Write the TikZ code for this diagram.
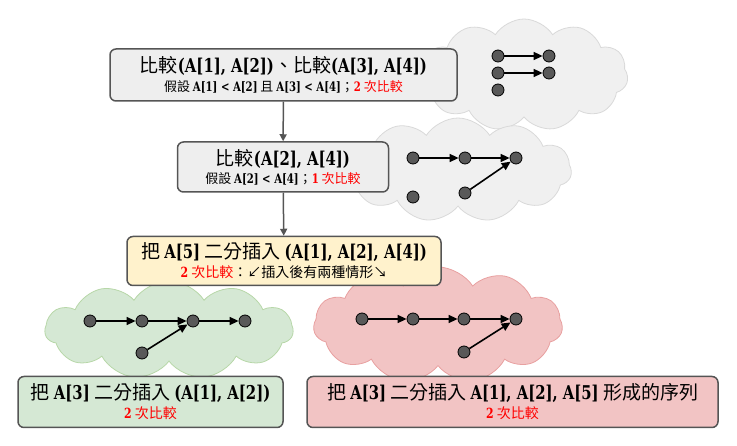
\documentclass[tikz,border=0pt]{standalone}
\usepackage{fontspec}
\setmainfont{Noto Sans CJK TC}
\newfontfamily\slab{DejaVu Serif}[FakeStretch=0.78, UprightFont={* Bold}]
\usepackage{xcolor}
\usetikzlibrary{arrows.meta, shapes.symbols}
\definecolor{edgegray}{HTML}{555555}
\definecolor{dotgray}{HTML}{595959}
\definecolor{boxgray}{HTML}{EEEEEE}
\definecolor{cldgray}{HTML}{F0F0F0}
\definecolor{cldgrayline}{HTML}{D9D9D9}
\definecolor{boxyellow}{HTML}{FFF2CC}
\definecolor{boxgreen}{HTML}{D5E8D4}
\definecolor{cldgreenline}{HTML}{B7D7A8}
\definecolor{boxred}{HTML}{F2C4C4}
\definecolor{cldredline}{HTML}{E8A0A0}
\newcommand\bigtx{\fontsize{19}{23}\selectfont}
\newcommand\smtx{\fontsize{13}{16}\selectfont}
\newcommand\subtx{\fontsize{14}{17}\selectfont}
\newcommand\slb[1]{{\slab #1}}
\newcommand\cnt[1]{\textcolor{red}{\slb{#1} 次比較}}
\tikzset{
  blk/.style={rectangle, draw=edgegray, line width=1.5pt, rounded corners=6pt,
              align=center, inner sep=2pt},
  cld/.style={cloud, cloud puffs=11, cloud puff arc=115, cloud ignores aspect,
              draw, line width=0.8pt},
  dot/.style={circle, draw=black, fill=dotgray, minimum size=12pt, inner sep=0pt,
              line width=0.8pt},
  arr/.style={-{Triangle[length=9pt,width=8pt]}, line width=1.6pt},
  flow/.style={-{Triangle[length=7pt,width=7pt]}, line width=1.5pt, draw=edgegray},
}
\begin{document}
\begin{tikzpicture}[x=1pt, y=-1pt]
  \useasboundingbox (0,0) rectangle (737,446);
  % clouds
  \node[cld, fill=cldgray, draw=cldgrayline, minimum width=208pt, minimum height=112pt] (c1) at (524,75) {};
  \node[cld, fill=cldgray, draw=cldgrayline, minimum width=227pt, minimum height=104pt] (c2) at (458,170) {};
  \node[cld, fill=boxgreen, draw=cldgreenline, minimum width=248pt, minimum height=98pt] (c3) at (169,330) {};
  \node[cld, fill=boxred, draw=cldredline, minimum width=249pt, minimum height=116pt] (c4) at (438,325) {};

  % boxes
  \node[blk, fill=boxgray, minimum width=347pt, minimum height=52pt] (cmp1) at (283.5,75)
    {{\bigtx 比較\slb{(A[1], A[2])}、比較\slb{(A[3], A[4])}}\\[4pt]
     {\smtx 假設 \slb{A[1] < A[2]} 且 \slb{A[3] < A[4]}；\cnt{2}}};
  \node[blk, fill=boxgray, minimum width=211pt, minimum height=50pt] (cmp2) at (283,167)
    {{\bigtx 比較\slb{(A[2], A[4])}}\\[3pt]
     {\smtx 假設 \slb{A[2] < A[4]}；\cnt{1}}};
  \node[blk, fill=boxyellow, minimum width=314pt, minimum height=49pt] (ins5) at (284,261)
    {{\bigtx 把 \slb{A[5]} 二分插入 \slb{(A[1], A[2], A[4])}}\\[3pt]
     {\subtx \cnt{2}：↙插入後有兩種情形↘}};
  \node[blk, fill=boxgreen, minimum width=265pt, minimum height=51pt] (insL) at (150.5,402)
    {{\bigtx 把 \slb{A[3]} 二分插入 \slb{(A[1], A[2])}}\\[3pt]
     {\subtx \cnt{2}}};
  \node[blk, fill=boxred, minimum width=411pt, minimum height=51pt] (insR) at (512.5,402)
    {{\bigtx 把 \slb{A[3]} 二分插入 \slb{A[1], A[2], A[5]} 形成的序列}\\[3pt]
     {\subtx \cnt{2}}};

  \draw[flow] (cmp1) -- (cmp2);
  \draw[flow] (cmp2) -- (ins5);

  % dots in the gray clouds
  \node[dot] (a1) at (498,56) {};
  \node[dot] (a2) at (549,56) {};
  \node[dot] (a3) at (498,73) {};
  \node[dot] (a4) at (549,73) {};
  \node[dot] (a5) at (498,90) {};
  \draw[arr] (a1) -- (a2);
  \draw[arr] (a3) -- (a4);

  \node[dot] (b1) at (413,158) {};
  \node[dot] (b2) at (465,158) {};
  \node[dot] (b3) at (516,158) {};
  \node[dot] (b4) at (413,197) {};
  \node[dot] (b5) at (465,193) {};
  \draw[arr] (b1) -- (b2);
  \draw[arr] (b2) -- (b3);
  \draw[arr] (b5) -- (b3);

  % dots in the green cloud
  \node[dot] (g1) at (90,321) {};
  \node[dot] (g2) at (142,321) {};
  \node[dot] (g3) at (193,321) {};
  \node[dot] (g4) at (245,321) {};
  \node[dot] (g5) at (142,353) {};
  \draw[arr] (g1) -- (g2);
  \draw[arr] (g2) -- (g3);
  \draw[arr] (g3) -- (g4);
  \draw[arr] (g5) -- (g3);

  % dots in the red cloud
  \node[dot] (r1) at (362,319) {};
  \node[dot] (r2) at (413,319) {};
  \node[dot] (r3) at (464,319) {};
  \node[dot] (r4) at (516,319) {};
  \node[dot] (r5) at (464,352) {};
  \draw[arr] (r1) -- (r2);
  \draw[arr] (r2) -- (r3);
  \draw[arr] (r3) -- (r4);
  \draw[arr] (r5) -- (r4);
\end{tikzpicture}
\end{document}
